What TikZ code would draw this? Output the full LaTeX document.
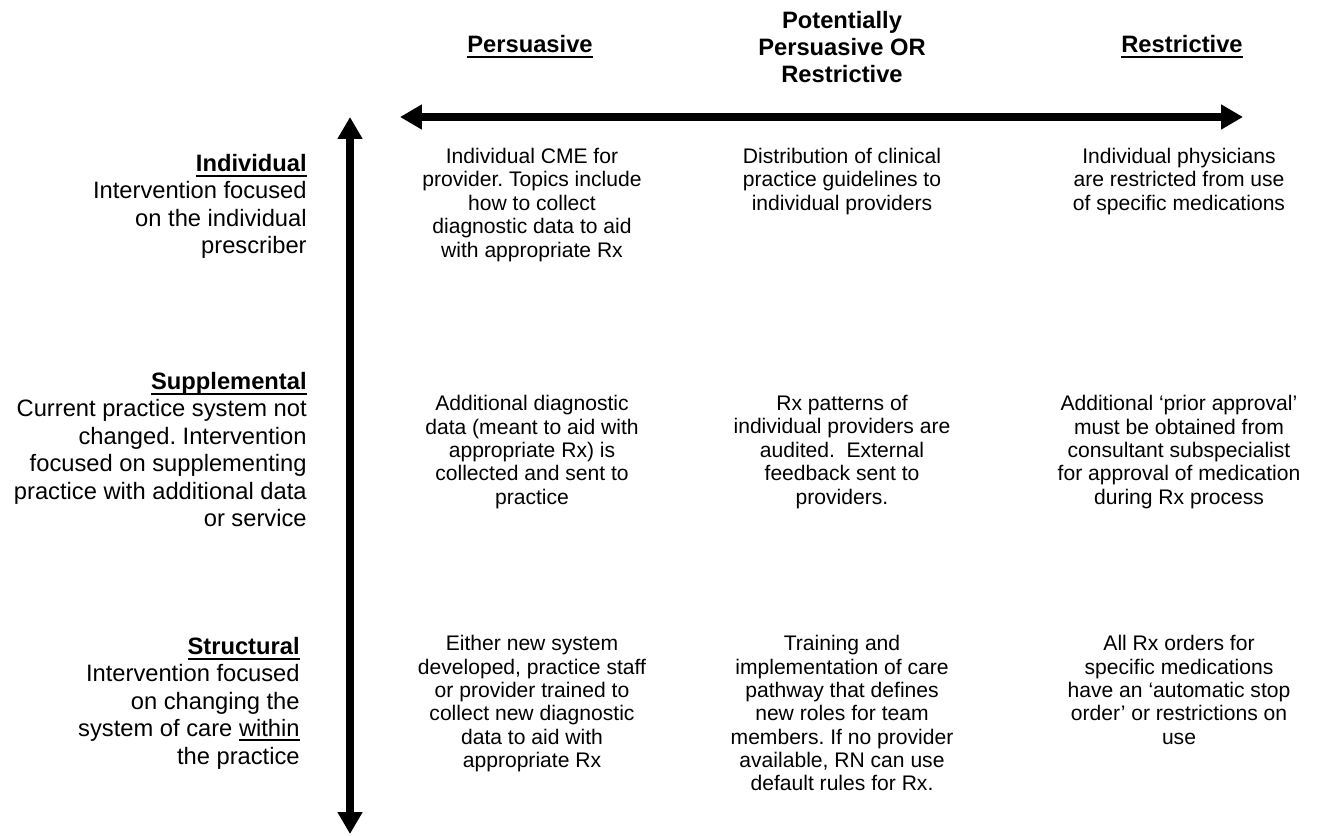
\documentclass[tikz,border=0pt]{standalone}
\usepackage{fontspec}
\setmainfont{Liberation Sans}
\usepackage{tikz}
\usetikzlibrary{arrows.meta, positioning}
\usepackage{xcolor}
\definecolor{axisInk}{RGB}{0, 0, 0}

% underline with a rule of our own thickness
\newcommand{\ulword}[3][1.4pt]{\leavevmode\setbox0\hbox{#3}\rlap{\rule[#2]{\wd0}{#1}}\box0}

\tikzset{
  axis/.style={line width=4.6pt, axisInk, {Triangle[length=12.5pt, width=13.5pt]}-{Triangle[length=12.5pt, width=13.5pt]}},
  head/.style={inner sep=0pt, align=center, font=\fontsize{13.5}{15.4}\selectfont\bfseries},
  level/.style={inner sep=0pt, align=right, anchor=north east, font=\fontsize{13.5}{15.6}\selectfont},
  cell/.style={inner sep=0pt, align=center, anchor=north, font=\fontsize{12}{13.3}\selectfont}
}

\begin{document}
\frenchspacing
\begin{tikzpicture}[x=0.02cm, y=-0.02cm]
  \useasboundingbox (0,0) rectangle (1331,835);

  % column headings
  \node[head, anchor=base] (persuasive) at (530, 52) {\ulword{-3.6pt}{Persuasive}};
  \node[head, anchor=north] (either) at (842, 11) {Potentially\\Persuasive OR\\Restrictive};
  \node[head, anchor=base] (restrictive) at (1182, 52) {\ulword{-3.6pt}{Restrictive}};

  % the two axes
  \coordinate (hleft) at (400, 117);
  \coordinate (hright) at (1243, 117);
  \coordinate (vtop) at (350, 117);
  \coordinate (vbottom) at (350, 834);
  \draw[axis] (hleft) -- (hright);
  \draw[axis] (vtop) -- (vbottom);

  % row headings
  \node[level] (individual) at (307, 154) {\ulword{-3.2pt}{\bfseries Individual}\\Intervention focused\\on the individual\\prescriber};
  \node[level] (supplemental) at (307, 372) {\ulword{-3.2pt}{\bfseries Supplemental}\\Current practice system not\\changed. Intervention\\focused on supplementing\\practice with additional data\\or service};
  \node[level] (structural) at (300, 637) {\ulword{-3.2pt}{\bfseries Structural}\\Intervention focused\\on changing the\\system of care \ulword[0.8pt]{-2.2pt}{within}\\the practice};

  % row 1
  \node[cell] (indPers) at (532, 148) {Individual CME for\\provider. Topics include\\how to collect\\diagnostic data to aid\\with appropriate Rx};
  \node[cell] (indBoth) at (842, 148) {Distribution of clinical\\practice guidelines to\\individual providers};
  \node[cell] (indRestr) at (1179, 148) {Individual physicians\\are restricted from use\\of specific medications};

  % row 2
  \node[cell] (supPers) at (532, 395) {Additional diagnostic\\data (meant to aid with\\appropriate Rx) is\\collected and sent to\\practice};
  \node[cell] (supBoth) at (842, 395) {Rx patterns of\\individual providers are\\audited.\ \ External\\feedback sent to\\providers.};
  \node[cell] (supRestr) at (1179, 395) {Additional ‘prior approval’\\must be obtained from\\consultant subspecialist\\for approval of medication\\during Rx process};

  % row 3
  \node[cell] (strPers) at (532, 635) {Either new system\\developed, practice staff\\or provider trained to\\collect new diagnostic\\data to aid with\\appropriate Rx};
  \node[cell] (strBoth) at (842, 635) {Training and\\implementation of care\\pathway that defines\\new roles for team\\members. If no provider\\available, RN can use\\default rules for Rx.};
  \node[cell] (strRestr) at (1179, 635) {All Rx orders for\\specific medications\\have an ‘automatic stop\\order’ or restrictions on\\use};
\end{tikzpicture}
\end{document}
